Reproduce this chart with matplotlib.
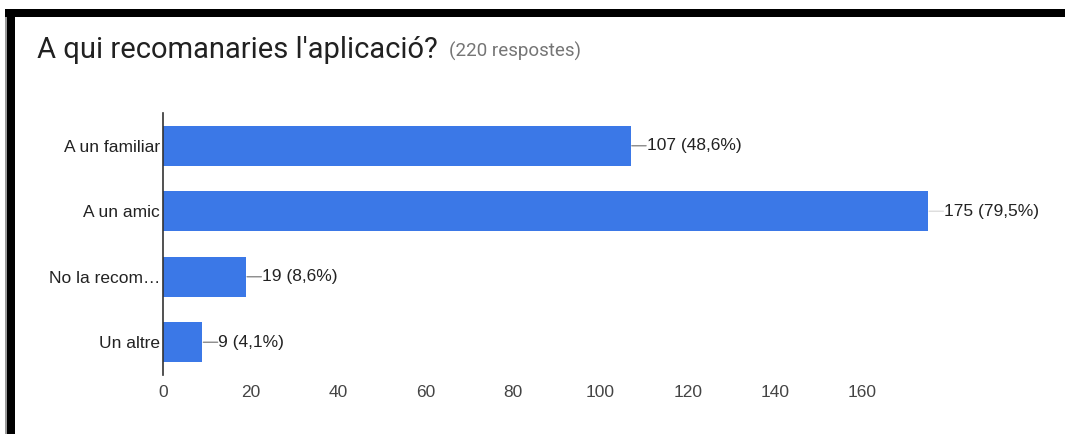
import matplotlib
matplotlib.use("Agg")
import matplotlib.pyplot as plt
from matplotlib.patches import Rectangle

# Survey responses
categories = ["A un familiar", "A un amic", "No la recom…", "Un altre"]
counts = [107, 175, 19, 9]
percents = ["48,6", "79,5", "8,6", "4,1"]
total_responses = 220
x_ticks = [0, 20, 40, 60, 80, 100, 120, 140, 160]

W, H = 1065, 434
fig = plt.figure(figsize=(W / 100, H / 100), dpi=100)
fig.patch.set_facecolor("white")

# Black frame along the top and left edges
fig.patches.append(Rectangle((5 / W, 1 - 17 / H), (W - 5) / W, 8 / H,
                             transform=fig.transFigure, facecolor="black",
                             edgecolor="none", zorder=10))
fig.patches.append(Rectangle((7 / W, 0), 8 / W, 1 - 9 / H,
                             transform=fig.transFigure, facecolor="black",
                             edgecolor="none", zorder=10))
fig.patches.append(Rectangle((5 / W, 0), 1.5 / W, 1 - 9 / H,
                             transform=fig.transFigure, facecolor="#9a9a9a",
                             edgecolor="none", zorder=9))

# Title and response count
fig.text(37 / W, 1 - 58 / H, "A qui recomanaries l'aplicació?",
         fontsize=21, family="Roboto", color="#212121", va="baseline", ha="left")
fig.text(449 / W, 1 - 57 / H, f"({total_responses} respostes)",
         fontsize=13.5, family="Roboto", color="#757575", va="baseline", ha="left")

ax = fig.add_axes([163 / W, 1 - 375 / H, 787 / W, 262 / H])
ypos = list(range(len(categories)))
ax.barh(ypos, counts, height=0.61, color="#3b78e7", zorder=2)

ax.set_xlim(0, 180)
ax.set_ylim(len(categories) - 0.5, -0.5)
ax.set_xticks(x_ticks)
ax.set_xticklabels([str(t) for t in x_ticks])
ax.set_yticks(ypos)
ax.set_yticklabels(categories)

for side in ("top", "right", "bottom"):
    ax.spines[side].set_visible(False)
ax.spines["left"].set_color("#333333")
ax.spines["left"].set_linewidth(1.2)
ax.tick_params(axis="x", length=0, pad=7, labelsize=12.5, labelcolor="#444444")
ax.tick_params(axis="y", length=0, pad=2, labelsize=12.5, labelcolor="#222222")
for lbl in ax.get_xticklabels() + ax.get_yticklabels():
    lbl.set_family("Liberation Sans")

# Value labels with short leader lines
for y, c, p in zip(ypos, counts, percents):
    lead = "#dddddd" if c == max(counts) else "#8a8a8a"
    ax.annotate("", xy=(c, y), xytext=(11, 0), textcoords="offset points",
                arrowprops=dict(arrowstyle="-", color=lead, lw=1,
                                shrinkA=0, shrinkB=0.7))
    ax.annotate(f"{c} ({p}%)", xy=(c, y), xytext=(11.5, 0),
                textcoords="offset points", va="center", ha="left",
                fontsize=12.5, family="Liberation Sans", color="#222222")

fig.savefig("out.png", dpi=100, facecolor="white")
